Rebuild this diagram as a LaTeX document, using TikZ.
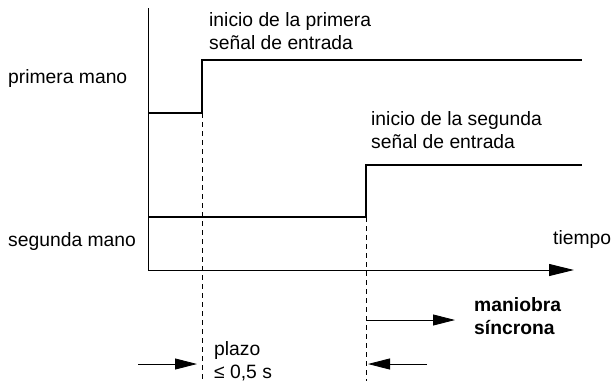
\documentclass[tikz,border=0pt]{standalone}
\usepackage{fontspec}
\setmainfont{Liberation Sans}
\usetikzlibrary{arrows.meta}
\begin{document}
\begin{tikzpicture}[x=1pt,y=-1pt,
  lbl/.style={font=\fontsize{19.3}{23}\selectfont,inner sep=0pt,anchor=west,align=left},
  bold/.style={lbl,font=\fontsize{19.3}{23}\selectfont\bfseries},
  axis/.style={line width=0.9pt,-{Triangle[length=25pt,width=12pt]}},
  sig/.style={line width=1.8pt},
  guide/.style={line width=0.8pt,dash pattern=on 5pt off 4pt},
  arr/.style={line width=0.8pt,-{Triangle[length=22pt,width=11pt]}}]
\useasboundingbox (0,0) rectangle (612,381);
% axes
\coordinate (o) at (148,270);
\coordinate (ytop) at (148,8);
\coordinate (xend) at (574,270);
\draw[line width=0.9pt] (ytop) -- (o);
\draw[axis] (o) -- (xend);
% signals
\coordinate (p0) at (148,113);
\coordinate (p1) at (202,113);
\coordinate (p2) at (202,60);
\coordinate (p3) at (582,60);
\coordinate (s0) at (148,217);
\coordinate (s1) at (366,217);
\coordinate (s2) at (366,165);
\coordinate (s3) at (582,165);
\draw[sig] (p0) -- (p1) -- (p2) -- (p3);
\draw[sig] (s0) -- (s1) -- (s2) -- (s3);
% guides
\coordinate (g1) at (202,381);
\coordinate (g2) at (366,381);
\draw[guide] (p1) -- (g1);
\draw[guide] (s1) -- (g2);
% labels
\node[lbl] (lp) at (8,79) {primera mano};
\node[lbl] (ls) at (8,242) {segunda mano};
\node[lbl] (lt) at (553,240) {tiempo};
\node[lbl] (i1) at (209,31) {inicio de la primera\\se\~nal de entrada};
\node[lbl] (i2) at (371,130) {inicio de la segunda\\se\~nal de entrada};
\node[bold] (ms) at (474,316) {maniobra\\s\'incrona};
\node[lbl] (pl) at (214,361) {plazo\\≤ 0,5 s};
% arrows
\coordinate (m0) at (366,320);
\coordinate (m1) at (455,320);
\draw[arr] (m0) -- (m1);
\coordinate (a0) at (138,364);
\coordinate (a1) at (197,364);
\draw[arr] (a0) -- (a1);
\coordinate (b0) at (427,364);
\coordinate (b1) at (368,364);
\draw[arr] (b0) -- (b1);
\end{tikzpicture}
\end{document}
